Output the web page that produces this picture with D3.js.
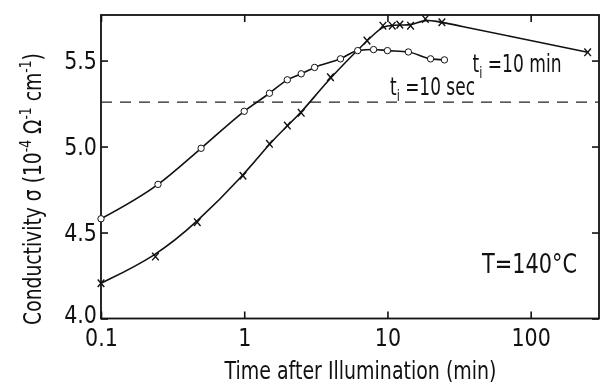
<!DOCTYPE html>
<html lang="en">
<head>
<meta charset="UTF-8">
<title>Conductivity after illumination</title>
<script src="https://d3js.org/d3.v7.min.js"></script>
<style>
    body { margin: 0; background: #fff; }
    svg { display: block; font-family: "DejaVu Sans", sans-serif; will-change: transform; }
    .frame { fill: none; stroke: #111; stroke-width: 1.8px; }
    .axis line { stroke: #111; stroke-width: 1.6px; }
    .axis text { fill: #111; font-size: 24px; }
    .curve { fill: none; stroke: #111; stroke-width: 1.6px; }
    .ref { stroke: #222; stroke-width: 1.3px; stroke-dasharray: 11 8; }
    .dot { fill: #fff; stroke: #111; stroke-width: 1px; }
    .cross { stroke: #111; stroke-width: 1.4px; fill: none; }
    .label { fill: #111; }
</style>
</head>
<body>
<svg width="601" height="385"></svg>
<script>
    // t_i = 10 sec series (open circles): time (min) and conductivity (1e-4 / ohm cm)
    const secTime  = [0.1, 0.25, 0.5, 1.0, 1.5, 2.0, 2.5, 3.1, 4.7, 6.2, 8.0, 10, 14, 20, 25];
    const secSigma = [4.58, 4.78, 4.99, 5.205, 5.31, 5.388, 5.423, 5.46, 5.51, 5.558, 5.564, 5.558, 5.55, 5.51, 5.504];

    // t_i = 10 min series (crosses)
    const minTime  = [0.1, 0.24, 0.47, 0.98, 1.5, 2.0, 2.5, 4.0, 7.2, 9.3, 10.8, 12.2, 14.5, 18.4, 24, 250];
    const minSigma = [4.205, 4.36, 4.56, 4.83, 5.016, 5.122, 5.196, 5.403, 5.616, 5.703, 5.703, 5.709, 5.703, 5.742, 5.723, 5.548];

    // level of the dashed reference line
    const darkLevel = 5.258;

    const xTicks = [0.1, 1, 10, 100];
    const xTickLabels = ['0.1', '1', '10', '100'];
    const yTicks = [4.0, 4.5, 5.0, 5.5];
    const yTickLabels = ['4.0', '4.5', '5.0', '5.5'];

    const svg = d3.select('svg');
    const plotL = 101, plotR = 599, plotT = 15, plotB = 318.5;

    const x = d3.scaleLog().domain([0.1, 300]).range([plotL, plotR]);
    const y = d3.scaleLinear().domain([4.0, 5.765]).range([plotB, plotT]);

    // axes, ticks pointing inward on all four sides
    const bottomAxis = svg.append('g').attr('class', 'axis')
        .attr('transform', `translate(0,${plotB})`)
        .call(d3.axisBottom(x).tickValues(xTicks).tickSizeInner(-7).tickSizeOuter(0)
            .tickPadding(10).tickFormat((d, i) => xTickLabels[i]));
    svg.append('g').attr('class', 'axis')
        .attr('transform', `translate(0,${plotT})`)
        .call(d3.axisTop(x).tickValues(xTicks).tickSizeInner(-7).tickSizeOuter(0).tickFormat(''));
    const leftAxis = svg.append('g').attr('class', 'axis')
        .attr('transform', `translate(${plotL},0)`)
        .call(d3.axisLeft(y).tickValues(yTicks).tickSizeInner(-7).tickSizeOuter(0)
            .tickPadding(4).tickFormat((d, i) => yTickLabels[i]));
    svg.append('g').attr('class', 'axis')
        .attr('transform', `translate(${plotR},0)`)
        .call(d3.axisRight(y).tickValues(yTicks).tickSizeInner(-7).tickSizeOuter(0).tickFormat(''));

    svg.selectAll('.axis').attr('font-size', null).attr('font-family', null);
    svg.selectAll('.axis .domain').remove();

    // the lettering is narrow, squeeze the tick labels
    bottomAxis.selectAll('text').attr('transform', 'scale(0.86,1)');
    leftAxis.selectAll('text')
        .attr('x', 0)
        .attr('transform', (d, i) => `translate(-4,${i === 0 ? -4 : 0}) scale(0.86,1)`);

    svg.append('rect').attr('class', 'frame')
        .attr('x', plotL).attr('y', plotT)
        .attr('width', plotR - plotL).attr('height', plotB - plotT);

    // dashed reference level
    svg.append('line').attr('class', 'ref')
        .attr('x1', plotL).attr('x2', plotR)
        .attr('y1', y(darkLevel)).attr('y2', y(darkLevel));

    const secData = secTime.map((t, i) => [t, secSigma[i]]);
    const minData = minTime.map((t, i) => [t, minSigma[i]]);

    svg.append('path').attr('class', 'curve')
        .attr('d', d3.line().x(d => x(d[0])).y(d => y(d[1])).curve(d3.curveBasis)(minData));
    svg.append('path').attr('class', 'curve')
        .attr('d', d3.line().x(d => x(d[0])).y(d => y(d[1])).curve(d3.curveMonotoneX)(secData));

    svg.append('g').selectAll('path')
        .data(minData)
        .enter().append('path')
        .attr('class', 'cross')
        .attr('transform', d => `translate(${x(d[0])},${y(d[1])})`)
        .attr('d', 'M-3.3,-3.8L3.3,3.8M3.3,-3.8L-3.3,3.8');

    svg.append('g').selectAll('circle')
        .data(secData)
        .enter().append('circle')
        .attr('class', 'dot')
        .attr('cx', d => x(d[0]))
        .attr('cy', d => y(d[1]))
        .attr('r', 3.2);

    // text helper: builds the text, then squeezes it to the width seen in the figure
    function label(px, py, width, size, anchor, rotate, parts) {
        const g = svg.append('g');
        const t = g.append('text').attr('class', 'label')
            .attr('font-size', size).attr('text-anchor', anchor);
        let shift = 0;
        parts.forEach(p => {
            const dy = (p.dy || 0) - shift;
            t.append('tspan')
                .attr('dy', dy)
                .attr('font-size', p.small ? size * 0.66 : size)
                .text(p.s);
            shift = p.dy || 0;
        });
        const w = t.node().getBBox().width;
        g.attr('transform', `translate(${px},${py})` + (rotate ? ` rotate(${rotate})` : '') +
            ` scale(${width / w},1)`);
    }

    label(360.5, 379, 273, 25, 'middle', 0, [{ s: 'Time after Illumination  (min)' }]);
    label(41, 189, 272, 25, 'middle', -90, [
        { s: 'Conductivity  σ  (10' },
        { s: '-4', small: true, dy: -10 },
        { s: ' Ω' },
        { s: '-1', small: true, dy: -10 },
        { s: ' cm' },
        { s: '-1', small: true, dy: -10 },
        { s: ')' }
    ]);
    label(472.5, 71.5, 89, 25, 'start', 0, [
        { s: 't' }, { s: 'i', small: true, dy: 6 }, { s: ' =10 min' }
    ]);
    label(390, 95, 85, 25, 'start', 0, [
        { s: 't' }, { s: 'i', small: true, dy: 6 }, { s: ' =10 sec' }
    ]);
    label(482, 273, 96, 27, 'start', 0, [{ s: 'T=140°C' }]);
</script>
</body>
</html>
